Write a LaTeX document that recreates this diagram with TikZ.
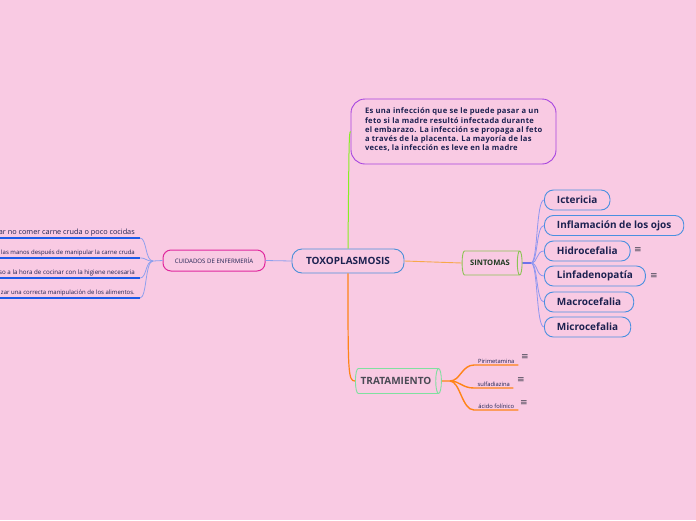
\documentclass[tikz,border=0pt]{standalone}
\usepackage{fontspec}
\setmainfont{Open Sans}
\newfontfamily\dvfont{DejaVu Sans}
\usetikzlibrary{shapes.geometric}
\definecolor{bg}{HTML}{F9CAE3}
\definecolor{navy}{HTML}{1C2150}
\definecolor{toxob}{HTML}{4A8FD8}
\definecolor{cuidb}{HTML}{E0289E}
\definecolor{descb}{HTML}{A744E0}
\definecolor{sintb}{HTML}{8CC455}
\definecolor{sintt}{HTML}{1E3A20}
\definecolor{tratb}{HTML}{7FE0A0}
\definecolor{tratt}{HTML}{4A4A55}
\definecolor{symb}{HTML}{4A90E0}
\definecolor{lav}{HTML}{8E96F0}
\definecolor{lblue}{HTML}{8EA0EE}
\definecolor{uline}{HTML}{1E5BE8}
\definecolor{sblue}{HTML}{2244EE}
\definecolor{orA}{HTML}{F7A84A}
\definecolor{orB}{HTML}{FF8418}
\definecolor{lime}{HTML}{88EE22}
\definecolor{icon}{HTML}{404050}
\tikzset{
  mainbox/.style={draw=toxob, line width=0.9pt, rounded corners=10pt, fill=bg, minimum width=112pt, minimum height=24pt, font=\fontsize{10}{12}\selectfont\bfseries, text=navy, inner sep=2pt},
  cuidbox/.style={draw=cuidb, line width=1pt, rounded corners=8pt, fill=bg, minimum width=102pt, minimum height=21pt, font=\fontsize{6.1}{7}\selectfont, text=navy, inner sep=2pt},
  descbox/.style={draw=descb, line width=0.9pt, rounded corners=14pt, fill=bg, inner xsep=14pt, inner ysep=3pt, font=\fontsize{7.6}{9.25}\selectfont\bfseries\addfontfeature{LetterSpace=4}, text=navy},
  cylbox/.style={cylinder, shape border rotate=0, aspect=0.5, fill=bg, line width=0.9pt, inner sep=2pt},
  symbox/.style={draw=symb, line width=0.9pt, rounded corners=9pt, fill=bg, minimum height=20pt, inner xsep=12.5pt, anchor=west, font=\fontsize{10}{12}\selectfont\bfseries, text=navy},
  lleaf/.style={anchor=south east, inner xsep=5pt, inner ysep=2pt, text=navy},
  tleaf/.style={anchor=south west, inner xsep=0pt, inner ysep=1.5pt, minimum width=44pt, font=\fontsize{5.8}{7}\selectfont, text=navy},
  menuicon/.style={font=\dvfont\fontsize{9}{10}\selectfont, text=icon, inner sep=0pt},
  lavline/.style={draw=lav, line width=0.8pt},
  lbline/.style={draw=lblue, line width=0.8pt},
  ulline/.style={draw=uline, line width=1.4pt},
  orline/.style={draw=orB, line width=1.4pt},
}
\begin{document}
\begin{tikzpicture}[x=1pt,y=-1pt]
\fill[bg] (0,0) rectangle (696,520);
\useasboundingbox (0,0) rectangle (696,520);

% central
\node[mainbox] (toxo) at (348,261) {TOXOPLASMOSIS};
\node[cuidbox] (cuid) at (214,260.5) {CUIDADOS DE ENFERMERÍA};
\node[descbox] (desc) at (453.5,131.5) {\begin{minipage}[c][59pt][t]{177pt}\vspace*{6pt}\makebox[0pt][l]{Es una infección que se le puede pasar a un}\\\makebox[0pt][l]{feto si la madre resultó infectada durante}\\\makebox[0pt][l]{el embarazo. La infección se propaga al feto}\\\makebox[0pt][l]{a través de la placenta. La mayoría de las}\\\makebox[0pt][l]{veces, la infección es leve en la madre}\end{minipage}};
\node[cylbox, draw=sintb, minimum height=60pt, minimum width=24pt, font=\fontsize{7.6}{9}\selectfont\bfseries, text=sintt] (sint) at (490,263) {SINTOMAS};
\node[cylbox, draw=tratb, minimum height=86pt, minimum width=25pt, font=\fontsize{10}{12}\selectfont\bfseries, text=tratt] (trat) at (396,381) {TRATAMIENTO};

% main connectors
\draw[lbline] (cuid.east) -- (toxo.west);
\draw[draw=orA, line width=0.9pt] (toxo.east) -- (sint.west);
\draw[draw=lime, line width=1pt] (toxo.north) .. controls (349,140) and (349,132) .. (desc.west);
\draw[orline, line width=1.2pt] (toxo.south) .. controls (348,372) and (348,381) .. (trat.west);

% symptoms
\node[symbox] (s1) at (544,200) {Ictericia};
\node[symbox] (s2) at (544,225.5) {Inflamación de los ojos};
\node[symbox] (s3) at (544,251) {Hidrocefalia};
\node[symbox] (s4) at (544,276) {Linfadenopatía};
\node[symbox] (s5) at (544,302) {Macrocefalia};
\node[symbox] (s6) at (544,327) {Microcefalia};
\node[menuicon] (i3) at (638,250.5) {≡};
\node[menuicon] (i4) at (654,276) {≡};
\coordinate (sb) at (531,263);
\draw[draw=sblue, line width=1.2pt] (sint.east) -- (sb);
\foreach \n/\y in {s1/200,s2/225.5,s3/251,s4/276,s5/302,s6/327}{
  \draw[lavline] (sb) .. controls (538,263) and (536,\y) .. (\n.west);
}

% treatment
\node[tleaf] (t1) at (474,365) {Pirimetamina};
\node[tleaf, minimum width=39pt] (t2) at (474,388) {sulfadiazina};
\node[tleaf] (t3) at (474,410) {ácido folínico};
\node[menuicon] (j1) at (525,357) {≡};
\node[menuicon] (j2) at (521,380) {≡};
\node[menuicon] (j3) at (524,403) {≡};
\coordinate (tb) at (450,381);
\draw[orline] (trat.east) -- (tb);
\foreach \n/\y in {t1/365,t2/388,t3/410}{
  \draw[orline] (tb) .. controls (460,381) and (462,\y) .. (\n.south west) -- (\n.south east);
}

% left leaves
\coordinate (cb) at (153,261);
\draw[lbline] (cuid.west) -- (cb);
\node[lleaf, font=\fontsize{7.3}{8}\selectfont] (l1) at (140,238) {\makebox[130pt][r]{ar no comer carne cruda o poco cocidas}};
\node[lleaf, font=\fontsize{6}{7}\selectfont] (l2) at (140,258) {\makebox[130pt][r]{las manos después de manipular la carne cruda}};
\node[lleaf, font=\fontsize{6.2}{7}\selectfont] (l3) at (140,278) {\makebox[130pt][r]{so a la hora de cocinar con la higiene necesaria}};
\node[lleaf, font=\fontsize{6}{7}\selectfont] (l4) at (140,298) {\makebox[130pt][r]{zar una correcta manipulación de los alimentos.}};
\foreach \n/\y in {l1/238,l2/258,l3/278,l4/298}{
  \draw[lbline] (cb) .. controls (145,261) and (147,\y) .. (\n.south east);
  \draw[ulline] (\n.south west) -- (\n.south east);
}
\end{tikzpicture}
\end{document}
